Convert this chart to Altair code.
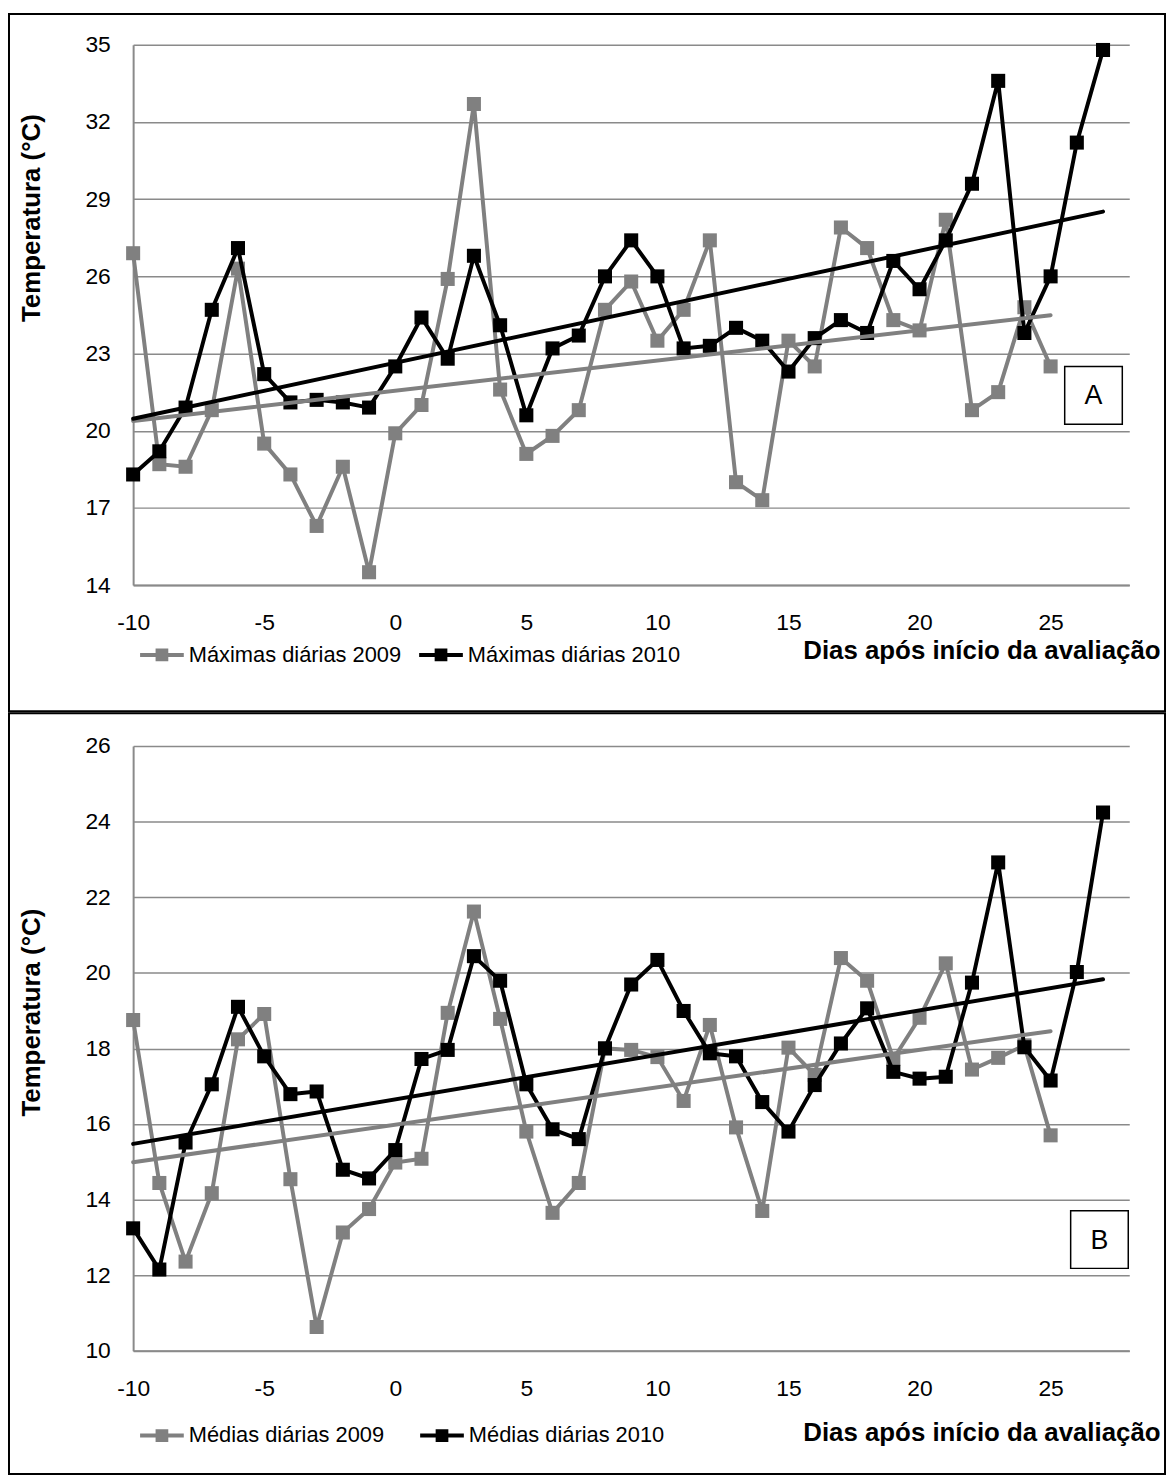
import altair as alt
import pandas as pd

# ---------------- data ----------------
days_2009 = list(range(-10, 26))   # -10 .. 25
days_2010 = list(range(-10, 28))   # -10 .. 27

max_2009 = [26.9, 18.7, 18.6, 20.8, 26.3, 19.5, 18.3, 16.3, 18.6, 14.5,
            19.9, 21.0, 25.9, 32.7, 21.6, 19.1, 19.8, 20.8, 24.7, 25.8,
            23.5, 24.7, 27.4, 18.0, 17.3, 23.5, 22.5, 27.9, 27.1, 24.3,
            23.9, 28.2, 20.8, 21.5, 24.8, 22.5]
max_2010 = [18.3, 19.2, 20.9, 24.7, 27.1, 22.2, 21.1, 21.2, 21.1, 20.9,
            22.5, 24.4, 22.8, 26.8, 24.1, 20.6, 23.2, 23.7, 26.0, 27.4,
            26.0, 23.2, 23.3, 24.0, 23.5, 22.3, 23.6, 24.3, 23.8, 26.6,
            25.5, 27.4, 29.6, 33.6, 23.8, 26.0, 31.2, 34.8]

mean_2009 = [18.75, 14.44, 12.36, 14.17, 18.24, 18.91, 14.54, 10.63, 13.13, 13.75,
             14.98, 15.08, 18.94, 21.62, 18.78, 15.80, 13.65, 14.44, 18.00, 17.96,
             17.77, 16.61, 18.62, 15.91, 13.70, 18.02, 17.30, 20.39, 19.79, 17.72,
             18.81, 20.25, 17.44, 17.75, 18.08, 15.70]
mean_2010 = [13.24, 12.15, 15.51, 17.05, 19.10, 17.79, 16.79, 16.86, 14.79, 14.56,
             15.31, 17.72, 17.96, 20.44, 19.79, 17.05, 15.86, 15.60, 18.00, 19.69,
             20.34, 18.99, 17.87, 17.79, 16.58, 15.80, 17.03, 18.13, 19.06, 17.38,
             17.20, 17.25, 19.74, 22.92, 18.03, 17.15, 20.02, 24.24]

names_max = ["Máximas diárias 2009", "Máximas diárias 2010"]
names_mean = ["Médias diárias 2009", "Médias diárias 2010"]

x_ticks = [-10, -5, 0, 5, 10, 15, 20, 25]
y_ticks_a = [14, 17, 20, 23, 26, 29, 32, 35]
y_ticks_b = [10, 12, 14, 16, 18, 20, 22, 24, 26]

x_title = "Dias após início da avaliação"
y_title = "Temperatura (°C)"

# ---------------- style ----------------
FONT = "Liberation Sans"
GRAY = "#808080"
GRID = "#8a8a8a"
W = 1003
LEG_PATH = "M-1,0H1M-0.2,-0.2H0.2V0.2H-0.2ZM0,-0.2V0.2"


def panel(names, v2009, v2010, ydom, yticks, H, title_y, letter, box, col_pad,
          leg_y, xt_y):
    df = pd.DataFrame({
        "day": days_2009 + days_2010,
        "temp": v2009 + v2010,
        "serie": [names[0]] * len(days_2009) + [names[1]] * len(days_2010),
    })
    base = alt.Chart(df)
    xenc = alt.X("day:Q", scale=alt.Scale(domain=[-10, 28], nice=False, zero=False),
                 axis=alt.Axis(values=x_ticks, grid=False, ticks=False, tickSize=0,
                               domain=True, domainColor=GRID, domainWidth=2,
                               labelFontSize=23, labelFont=FONT, labelColor="black",
                               labelPadding=27, labelFlush=False,
                               labelExpr="'' + datum.value",
                               title=x_title, titleFont=FONT, titleFontSize=26,
                               titleFontWeight="bold", titleColor="black",
                               titleAlign="right", titleBaseline="middle",
                               titleX=W + 31, titleY=xt_y))
    yenc = alt.Y("temp:Q", scale=alt.Scale(domain=ydom, nice=False, zero=False),
                 axis=alt.Axis(values=yticks, grid=True, gridColor=GRID, gridWidth=1.5,
                               ticks=False, tickSize=0, domain=True, domainColor=GRID,
                               domainWidth=2, labelFontSize=23, labelFont=FONT,
                               labelColor="black", labelPadding=23,
                               title=y_title, titleFont=FONT, titleFontSize=26,
                               titleFontWeight="bold", titleColor="black",
                               titleAngle=270, titleAlign="center",
                               titleBaseline="middle", titleX=-102, titleY=title_y))
    scale = alt.Scale(domain=names, range=[GRAY, "#000000"])
    col_leg = alt.Color("serie:N", scale=scale, legend=alt.Legend(
        orient="none", legendX=5, legendY=H + leg_y, direction="horizontal",
        title=None, labelFont=FONT, labelFontSize=22, labelColor="black",
        labelLimit=0, symbolType=LEG_PATH, symbolSize=1936, symbolStrokeWidth=4,
        labelOffset=3, columnPadding=col_pad))
    col = alt.Color("serie:N", scale=scale, legend=None)

    layers = []
    for i, nm in enumerate(names):
        sub = base.transform_filter(alt.datum.serie == nm)
        layers.append(sub.mark_line(strokeWidth=4).encode(
            x=xenc, y=yenc, color=col_leg if i == 0 else col))
        layers.append(sub.mark_square(size=200, opacity=1).encode(
            x="day:Q", y="temp:Q", color=col))
    for nm in names:
        layers.append(base.transform_filter(alt.datum.serie == nm)
                      .transform_regression("day", "temp", groupby=["serie"])
                      .mark_line(strokeWidth=4, strokeCap="round")
                      .encode(x="day:Q", y="temp:Q", color=col))

    one = alt.Chart(pd.DataFrame({"k": [0]}))
    bx0, bx1, by0, by1 = box
    layers.append(one.mark_rect(fill="white", stroke="black", strokeWidth=1.5).encode(
        x=alt.value(bx0), x2=alt.value(bx1), y=alt.value(by0), y2=alt.value(by1)))
    layers.append(one.mark_text(text=letter, font=FONT, fontSize=27, color="black",
                                baseline="middle", align="center").encode(
        x=alt.value((bx0 + bx1) / 2), y=alt.value((by0 + by1) / 2 + 1)))
    return alt.layer(*layers).properties(width=W, height=H)


# panel borders (pixel offsets relative to plot area)
def border(top, bottom):
    one = alt.Chart(pd.DataFrame({"k": [0]}))
    return one.mark_rect(fill="transparent", stroke="black", strokeWidth=2).encode(
        x=alt.value(-125), x2=alt.value(1039), y=alt.value(top), y2=alt.value(bottom))


pa = panel(names_max, max_2009, max_2010, [14, 35], y_ticks_a, 544, 174, "A",
           (938, 996, 324, 382), 10, 46, 66)
pb = panel(names_mean, mean_2009, mean_2010, [10, 26], y_ticks_b, 609, 268, "B",
           (944, 1002, 468, 526), 28, 61, 82)

pa = alt.layer(pa, border(-31, 671))
pb = alt.layer(pb, border(-33, 733))

chart = (alt.vconcat(pa, pb, spacing=0)
         .resolve_scale(color="independent")
         .resolve_legend(color="independent")
         .properties(padding=0)
         .configure_view(stroke=None))

chart.save("out.html", embed_options={"renderer": "svg", "actions": False})
